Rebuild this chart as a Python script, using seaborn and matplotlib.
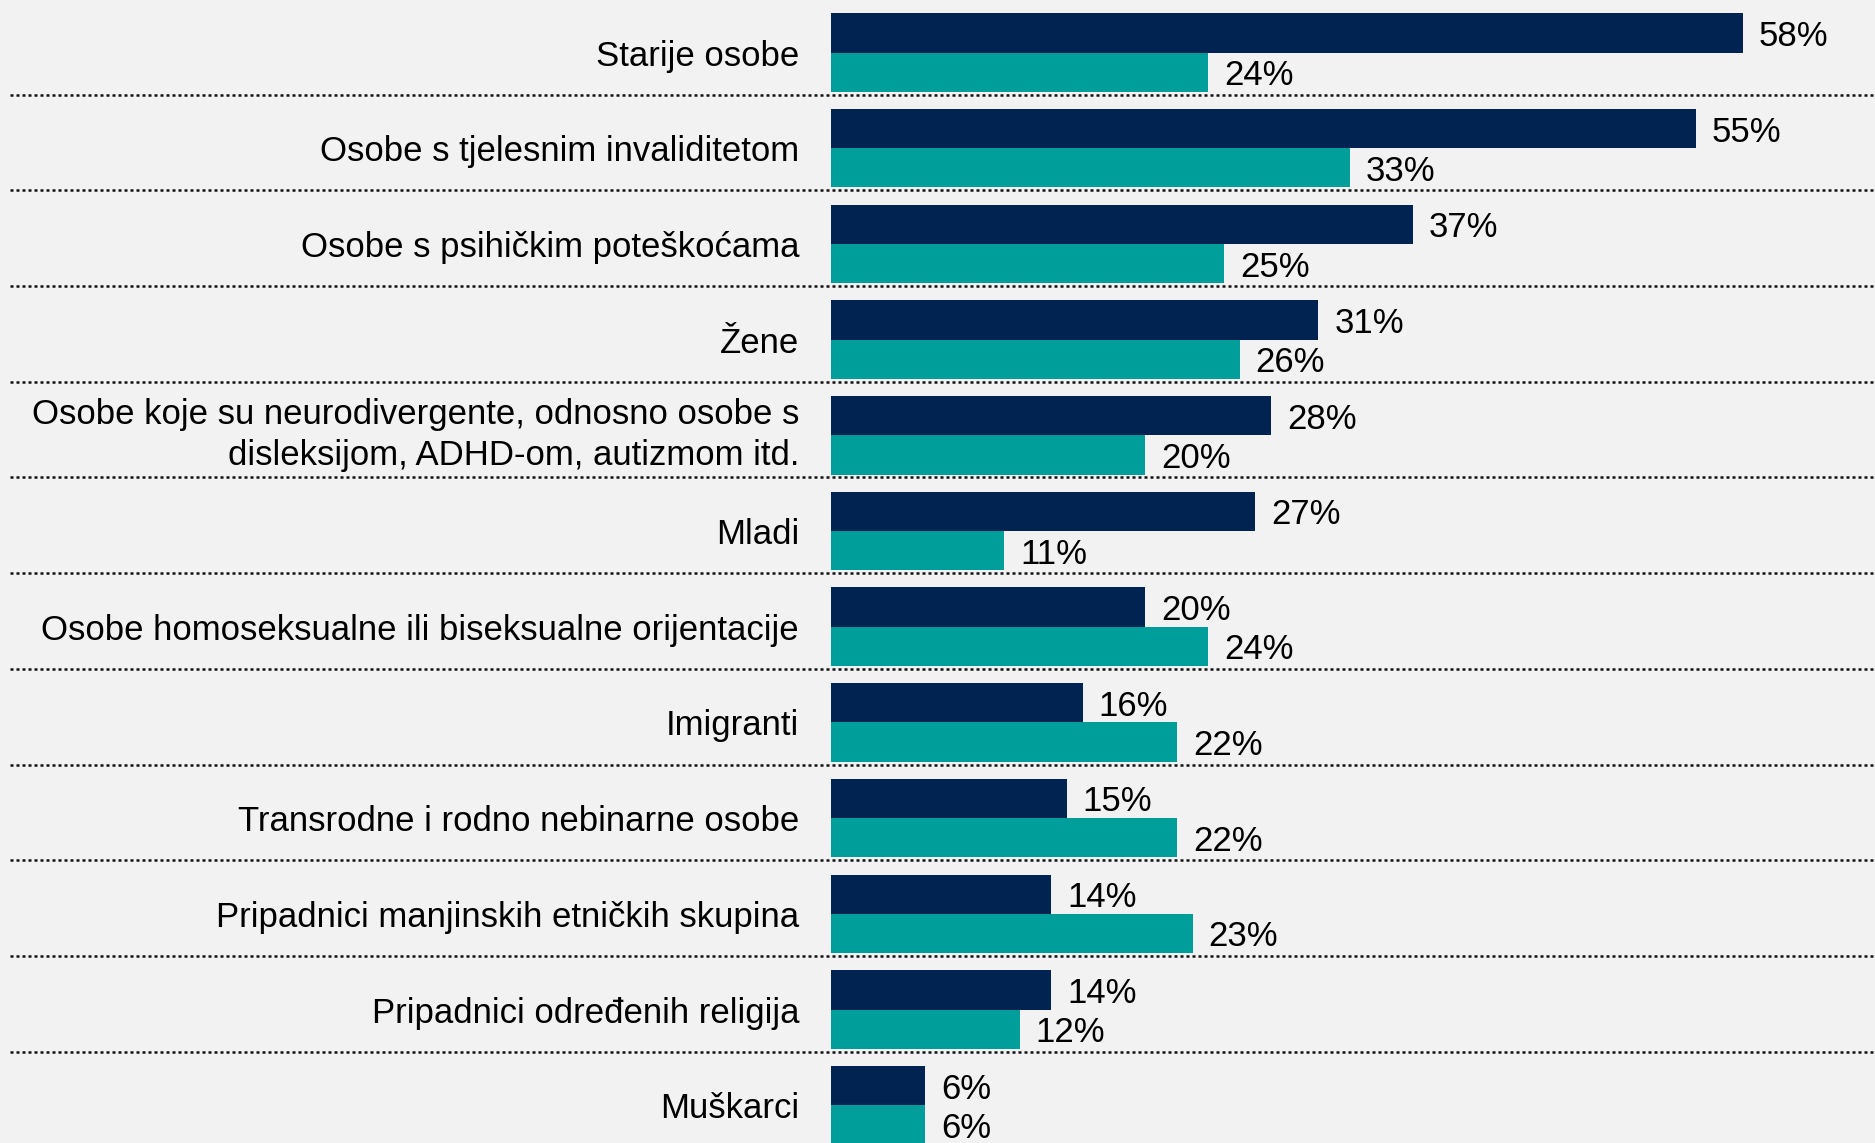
import matplotlib
matplotlib.use("Agg")
import matplotlib.pyplot as plt
import seaborn as sns
import pandas as pd

categories = [
    "Starije osobe",
    "Osobe s tjelesnim invaliditetom",
    "Osobe s psihičkim poteškoćama",
    "Žene",
    "Osobe koje su neurodivergente, odnosno osobe s\ndisleksijom, ADHD-om, autizmom itd.",
    "Mladi",
    "Osobe homoseksualne ili biseksualne orijentacije",
    "Imigranti",
    "Transrodne i rodno nebinarne osobe",
    "Pripadnici manjinskih etničkih skupina",
    "Pripadnici određenih religija",
    "Muškarci",
]
series_names = ["Serija 1", "Serija 2"]
values_dark = [58, 55, 37, 31, 28, 27, 20, 16, 15, 14, 14, 6]
values_teal = [24, 33, 25, 26, 20, 11, 24, 22, 22, 23, 12, 6]
colors = ["#002352", "#009E9B"]

df = pd.DataFrame({
    "category": categories * 2,
    "series": [series_names[0]] * len(categories) + [series_names[1]] * len(categories),
    "value": values_dark + values_teal,
})

sns.set_theme(style="white")
plt.rcParams["font.family"] = ["Liberation Sans", "DejaVu Sans"]

bg = "#F2F2F2"
fig = plt.figure(figsize=(18.75, 11.43), dpi=100, facecolor=bg)
W, H = 1875, 1143
left_px = 831
ax = fig.add_axes([left_px / W, 0, 1 - left_px / W, 1])
ax.set_facecolor(bg)

sns.barplot(data=df, y="category", x="value", hue="series", order=categories,
            hue_order=series_names, palette=colors, orient="h", width=0.82,
            dodge=True, legend=False, ax=ax, saturation=1, linewidth=0, edgecolor="none")

for cont in ax.containers:
    texts = ax.bar_label(cont, labels=[f"{int(v)}%" for v in cont.datavalues],
                         padding=11.5, fontsize=25, color="black")
    for t in texts:
        x, y = t.xyann
        t.xyann = (x, y - 2.5)

px_per_unit = 15.72
ax.set_xlim(0, (W - left_px) / px_per_unit)
ax.set_ylim(11.395, -0.549)

# dotted separators between categories
x0_frac = (10 - left_px) / (W - left_px)
for i in range(len(categories) - 1):
    ax.axhline(i + 0.44, xmin=x0_frac, xmax=1, color="#111111", lw=1.8,
               linestyle=(0, (1.2, 1.2)), clip_on=False, zorder=0)

for s in ax.spines.values():
    s.set_visible(False)
ax.set_xticks([])
ax.set_xlabel("")
ax.set_ylabel("")
ax.tick_params(axis="y", length=0, pad=23, labelsize=25, labelcolor="black")
for lbl in ax.get_yticklabels():
    if "\n" in lbl.get_text():
        lbl.set_linespacing(1.3)
        lbl.set_verticalalignment("center")

fig.savefig("out.png", dpi=100, facecolor=bg)
